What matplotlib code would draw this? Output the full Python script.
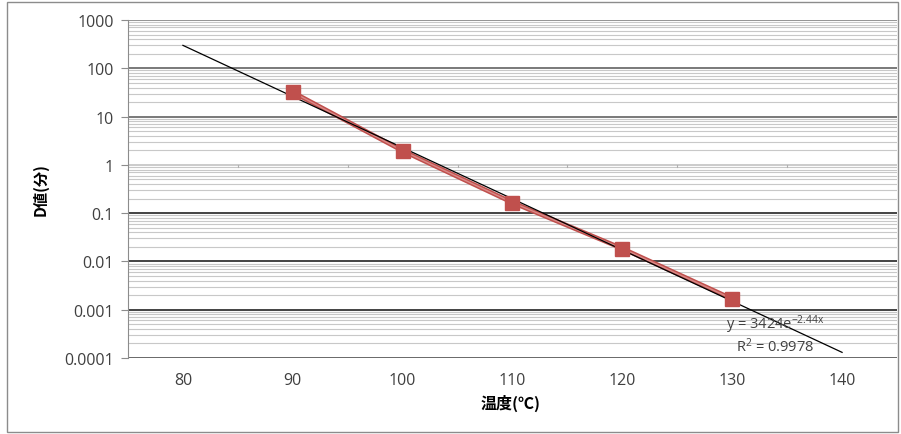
import numpy as np
import matplotlib
matplotlib.use("Agg")
import matplotlib.pyplot as plt
from matplotlib.ticker import LogLocator, NullFormatter

plt.rcParams['font.family'] = ['Open Sans', 'Noto Sans CJK JP', 'DejaVu Sans']
plt.rcParams['mathtext.default'] = 'regular'

# Data
temps = [90, 100, 110, 120, 130]
d_values = [32, 1.95, 0.165, 0.0185, 0.00168]
trend_a = 3424
trend_b = -2.44
trend_range = [80, 140]
x_ticks = [80, 90, 100, 110, 120, 130, 140]
y_ticks = [0.0001, 0.001, 0.01, 0.1, 1, 10, 100, 1000]
y_ticklabels = ['0.0001', '0.001', '0.01', '0.1', '1', '10', '100', '1000']
eq_text = 'y = 3424e$^{-2.44x}$'
r2_text = 'R$^2$ = 0.9978'

fig = plt.figure(figsize=(9.01, 4.35), dpi=100)
# outer frame
fig.patches.append(plt.Rectangle((7/901, 2/435), 891/901, 430/435, transform=fig.transFigure,
                                 fill=False, edgecolor='#8c8c8c', linewidth=1.0))

ax = fig.add_axes([128/901, 1 - 359/435, (897 - 128)/901, (359 - 21)/435])
ax.set_yscale('log')
ax.set_xlim(75, 145)
ax.set_ylim(0.0001, 1000)

# gridlines
ax.yaxis.set_minor_locator(LogLocator(base=10, subs=np.arange(2, 10)))
ax.yaxis.set_minor_formatter(NullFormatter())
ax.grid(True, which='minor', axis='y', color='#c8c8c8', linewidth=0.8)
major_colors = {0.0001: '#404040', 0.001: '#111111', 0.01: '#111111', 0.1: '#111111',
                1: '#bdbdbd', 10: '#555555', 100: '#555555', 1000: '#777777'}
for yv, c in major_colors.items():
    ax.axhline(yv, color=c, linewidth=1.1, zorder=1)

ax.set_yticks(y_ticks)
ax.set_yticklabels(y_ticklabels)
ax.set_xticks(x_ticks)
ax.tick_params(axis='both', which='both', length=0, labelsize=11.5, colors='#404040')
ax.tick_params(axis='y', which='major', length=5, color='#8c8c8c', pad=5)
ax.tick_params(axis='x', pad=10)

for s in ['top', 'right', 'bottom']:
    ax.spines[s].set_visible(False)
ax.spines['left'].set_color('#8c8c8c')

# small tick marks on the category axis crossing at y=1
for xv in np.arange(85, 145, 10):
    ax.plot([xv, xv], [0.92, 1.0], color='#b0b0b0', linewidth=0.8, zorder=2)

# trendline
tx_fine = np.linspace(trend_range[0], trend_range[1], 50)
ty = trend_a * np.exp(trend_b * (tx_fine - 70) / 10)
ax.plot(tx_fine, ty, color='black', linewidth=0.9, zorder=4)

# data series
ax.plot(temps, d_values, color='#c0504d', linewidth=3.2, zorder=3)
ax.plot(temps, d_values, color='#d98a88', linewidth=1.0, zorder=3)
ax.plot(temps, d_values, linestyle='none', marker='s', markersize=10,
        markerfacecolor='#c0504d', markeredgecolor='#c0504d', zorder=5)

ax.text(0.778, 0.101, eq_text, transform=ax.transAxes, fontsize=10.5, color='#404040',
        ha='left', va='center', zorder=6)
ax.text(0.790, 0.036, r2_text, transform=ax.transAxes, fontsize=10.5, color='#404040',
        ha='left', va='center', zorder=6)

fig.text(41/901, 1 - 190/435, 'D値(分)', rotation=90, ha='center', va='center',
         fontsize=11, fontweight='bold', family=['Noto Sans CJK JP', 'DejaVu Sans'])
fig.text(511/901, 1 - 403/435, '温度(℃)', ha='center', va='center',
         fontsize=11.5, fontweight='bold', family=['Noto Sans CJK JP', 'DejaVu Sans'])

fig.savefig('out.png', dpi=100)
